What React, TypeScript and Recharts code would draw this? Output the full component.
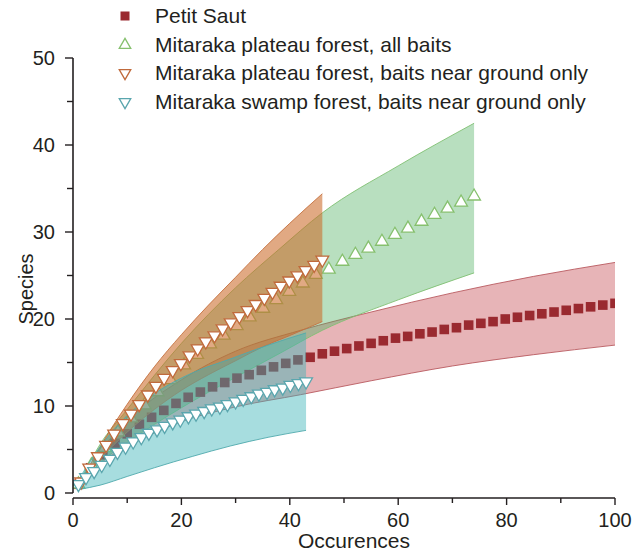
import React from "react";
import {
  ComposedChart,
  Area,
  Scatter,
  XAxis,
  YAxis,
  Legend,
  ReferenceLine,
} from "recharts";

// ---------- Data ----------
const seriesNames = [
  "Petit Saut",
  "Mitaraka plateau forest, all baits",
  "Mitaraka plateau forest, baits near ground only",
  "Mitaraka swamp forest, baits near ground only",
];

const xTicks = [0, 10, 20, 30, 40, 50, 60, 70, 80, 90, 100];
const yTicks = [0, 5, 10, 15, 20, 25, 30, 35, 40, 45, 50];

// Petit Saut
const psX = [1, 3.25, 5.5, 7.75, 10, 12.25, 14.5, 16.75, 19, 21.25, 23.5, 25.75, 28, 30.25, 32.5, 34.75, 37, 39.25, 41.5, 43.75, 46, 48.25, 50.5, 52.75, 55, 57.25, 59.5, 61.75, 64, 66.25, 68.5, 70.75, 73, 75.25, 77.5, 79.75, 82, 84.25, 86.5, 88.75, 91, 93.25, 95.5, 97.75, 100];
const psY = [1.0, 2.9, 4.4, 5.7, 6.8, 7.9, 8.7, 9.5, 10.3, 11.0, 11.6, 12.2, 12.7, 13.2, 13.6, 14.1, 14.5, 14.9, 15.3, 15.6, 16.0, 16.3, 16.6, 16.9, 17.2, 17.5, 17.8, 18.0, 18.3, 18.5, 18.8, 19.0, 19.3, 19.5, 19.7, 20.0, 20.2, 20.4, 20.6, 20.8, 21.0, 21.2, 21.4, 21.6, 21.8];
const psBandX = [1, 5, 10, 20, 30, 42, 55, 70, 85, 100];
const psBandLo = [1, 3.4, 5.3, 8.2, 9.9, 11.3, 12.9, 14.6, 15.9, 17.0];
const psBandHi = [1, 4.8, 8.3, 13.0, 16.3, 18.7, 20.8, 23.0, 24.9, 26.5];

// Mitaraka plateau forest, all baits
const mpX = [1, 3.4, 5.9, 8.3, 10.7, 13.2, 15.6, 18.0, 20.5, 22.9, 25.3, 27.8, 30.2, 32.6, 35.1, 37.5, 39.9, 42.4, 44.8, 47.2, 49.7, 52.1, 54.5, 57.0, 59.4, 61.8, 64.3, 66.7, 69.1, 71.6, 74.0];
const mpY = [1.0, 3.2, 5.2, 7.0, 8.6, 10.1, 11.6, 13.0, 14.7, 15.9, 17.1, 18.1, 19.2, 20.2, 21.2, 22.2, 23.15, 24.1, 25.1, 25.7, 26.6, 27.4, 28.1, 28.9, 29.7, 30.4, 31.2, 32.0, 32.7, 33.4, 34.1];
const mpBandX = [1, 5, 10, 20, 30, 38, 46, 60, 74];
const mpBandLo = [1, 3.5, 5.8, 9.8, 13.3, 16.0, 18.7, 22.2, 25.3];
const mpBandHi = [1, 5.6, 9.6, 17.2, 23.6, 28.0, 32.2, 37.6, 42.5];

// Mitaraka plateau forest, baits near ground only
const mgX = [1.5, 3.0, 4.6, 6.1, 7.6, 9.2, 10.7, 12.2, 13.8, 15.3, 16.8, 18.4, 19.9, 21.5, 23.0, 24.5, 26.1, 27.6, 29.1, 30.7, 32.2, 33.7, 35.3, 36.8, 38.3, 39.9, 41.4, 42.9, 44.5, 46.0];
const mgY = [1.3, 2.9, 4.2, 5.5, 6.8, 8.0, 9.1, 10.2, 11.3, 12.3, 13.2, 14.1, 14.9, 15.8, 16.6, 17.4, 18.1, 18.9, 19.6, 20.3, 21.0, 21.7, 22.4, 23.1, 23.8, 24.4, 25.0, 25.6, 26.2, 26.8];
const mgBandX = [1.5, 5, 10, 15, 20, 25, 30, 35, 40, 46];
const mgBandLo = [1.3, 3.9, 7.0, 9.6, 11.8, 13.6, 15.2, 16.8, 18.1, 19.7];
const mgBandHi = [1.3, 5.3, 10.2, 14.5, 18.2, 21.6, 24.8, 28.0, 31.0, 34.4];

// Mitaraka swamp forest, baits near ground only
const msX = [1.0, 2.4, 3.9, 5.3, 6.8, 8.2, 9.7, 11.1, 12.6, 14.0, 15.5, 16.9, 18.4, 19.8, 21.3, 22.7, 24.2, 25.6, 27.1, 28.5, 30.0, 31.4, 32.9, 34.3, 35.8, 37.2, 38.7, 40.1, 41.6, 43.0];
const msY = [1.0, 1.8, 2.5, 3.2, 3.9, 4.7, 5.3, 5.9, 6.4, 6.9, 7.3, 7.7, 8.1, 8.4, 8.8, 9.1, 9.4, 9.7, 9.9, 10.2, 10.5, 10.8, 11.1, 11.4, 11.6, 11.9, 12.1, 12.4, 12.6, 12.8];
const msBandX = [1, 5, 10, 15, 22, 29, 36, 43];
const msBandLo = [0.4, 0.9, 1.9, 2.9, 4.2, 5.4, 6.4, 7.2];
const msBandHi = [1.5, 5.3, 8.9, 11.4, 13.8, 15.4, 17.0, 18.4];

// ---------- helpers ----------
const pts = (xs: number[], ys: number[]) => xs.map((x, i) => ({ x, y: ys[i] }));
const band = (xs: number[], lo: number[], hi: number[]) =>
  xs.map((x, i) => ({ x, range: [lo[i], hi[i]] }));

const psPts = pts(psX, psY);
const mpPts = pts(mpX, mpY);
const mgPts = pts(mgX, mgY);
const msPts = pts(msX, msY);
const psBand = band(psBandX, psBandLo, psBandHi);
const mpBand = band(mpBandX, mpBandLo, mpBandHi);
const mgBand = band(mgBandX, mgBandLo, mgBandHi);
const msBand = band(msBandX, msBandLo, msBandHi);

const FONT = '"Liberation Sans", Arial, Helvetica, sans-serif';
const INK = "#231f20";

const C = {
  ps: "#9a2a30",
  psFill: "#c03a42",
  psEdge: "#b95a60",
  mp: "#86c06e",
  mpFill: "#4db060",
  mpEdge: "#7fbf72",
  mg: "#c06a3c",
  mgFill: "#cc6a2a",
  mgEdge: "#c4703f",
  ms: "#5aa6ae",
  msFill: "#3cb4b8",
  msEdge: "#4fa9ad",
};

const SIDE = 12.8;
const TH = (SIDE * Math.sqrt(3)) / 2;
const LSIDE = 11.5;
const LTH = (LSIDE * Math.sqrt(3)) / 2;

const triUp = (cx: number, cy: number, s = SIDE, h = TH) =>
  `${cx - s / 2},${cy + h / 3} ${cx + s / 2},${cy + h / 3} ${cx},${cy - (2 * h) / 3}`;
const triDown = (cx: number, cy: number, s = SIDE, h = TH) =>
  `${cx - s / 2},${cy - h / 3} ${cx + s / 2},${cy - h / 3} ${cx},${cy + (2 * h) / 3}`;

const squareShape = (p: any) => (
  <rect x={p.cx - 4.8} y={p.cy - 4.8} width={9.6} height={9.6} fill={C.ps} />
);
const upShape = (color: string) => (p: any) => (
  <polygon points={triUp(p.cx, p.cy)} fill="#ffffff" stroke={color} strokeWidth={1.3} />
);
const downShape = (color: string) => (p: any) => (
  <polygon points={triDown(p.cx, p.cy)} fill="#ffffff" stroke={color} strokeWidth={1.3} />
);

const YTick = (props: any) => {
  const { x, y, payload } = props;
  const major = payload.value % 10 === 0;
  return (
    <g>
      <line x1={x - (major ? 8 : 6)} x2={x} y1={y} y2={y} stroke={INK} strokeWidth={1.4} />
      {major && (
        <text x={x - 18} y={y + 7} textAnchor="end" fontSize={20} fontFamily={FONT} fill={INK}>
          {payload.value}
        </text>
      )}
    </g>
  );
};

const XTick = (props: any) => {
  const { x, y, payload } = props;
  const major = payload.value % 20 === 0;
  return (
    <g>
      <line x1={x} x2={x} y1={y} y2={y + (major ? 7 : 5)} stroke={INK} strokeWidth={1.4} />
      {major && (
        <text x={x} y={y + 29} textAnchor="middle" fontSize={20} fontFamily={FONT} fill={INK}>
          {payload.value}
        </text>
      )}
    </g>
  );
};

const LegendMarker = ({ i }: { i: number }) => {
  const cx = 12;
  const cy = 14;
  if (i === 0) return <rect x={cx - 4.5} y={cy - 4.5} width={9} height={9} fill={C.ps} />;
  if (i === 1) return <polygon points={triUp(cx, cy, LSIDE, LTH)} fill="none" stroke={C.mp} strokeWidth={1.3} />;
  if (i === 2) return <polygon points={triDown(cx, cy, LSIDE, LTH)} fill="none" stroke={C.mg} strokeWidth={1.3} />;
  return <polygon points={triDown(cx, cy, LSIDE, LTH)} fill="none" stroke={C.ms} strokeWidth={1.3} />;
};

const LegendContent = () => (
  <div style={{ fontFamily: FONT, fontSize: 21, color: INK }}>
    {seriesNames.map((name, i) => (
      <div key={name} style={{ display: "flex", alignItems: "center", height: 28.7, whiteSpace: "nowrap" }}>
        <svg width={42} height={28} style={{ flex: "none" }}>
          <LegendMarker i={i} />
        </svg>
        <span>{name}</span>
      </div>
    ))}
  </div>
);

export default function App() {
  return (
    <div style={{ position: "absolute", left: 0, top: 0, width: 638, height: 554, background: "#fff" }}>
      <ComposedChart
        width={638}
        height={554}
        margin={{ top: 58, right: 23, left: 0, bottom: 0 }}
      >
        <XAxis
          type="number"
          dataKey="x"
          domain={[0, 100]}
          ticks={xTicks}
          interval={0}
          tickSize={0}
          tickMargin={0}
          tickLine={false}
          tick={<XTick />}
          axisLine={{ stroke: INK, strokeWidth: 1.6 }}
          height={56}
          allowDataOverflow
        />
        <YAxis
          type="number"
          domain={[-0.575, 50]}
          ticks={yTicks}
          interval={0}
          tickSize={0}
          tickMargin={0}
          tickLine={false}
          tick={<YTick />}
          axisLine={false}
          width={73}
          allowDataOverflow
        />
        <ReferenceLine
          segment={[{ x: 0, y: 0 }, { x: 0, y: 50 }]}
          stroke={INK}
          strokeWidth={1.6}
          ifOverflow="visible"
        />

        <Area
          data={psBand}
          dataKey="range"
          type="monotone"
          fill={C.psFill}
          fillOpacity={0.38}
          stroke={C.psEdge}
          strokeWidth={0.9}
          isAnimationActive={false}
          zIndex={101}
          activeDot={false}
        />
        <Area
          data={mpBand}
          dataKey="range"
          type="monotone"
          fill={C.mpFill}
          fillOpacity={0.4}
          stroke={C.mpEdge}
          strokeWidth={0.9}
          isAnimationActive={false}
          zIndex={102}
          activeDot={false}
        />
        <Scatter
          data={psPts}
          dataKey="y"
          shape={squareShape}
          isAnimationActive={false}
          zIndex={103}
        />
        <Scatter
          data={mpPts}
          dataKey="y"
          shape={upShape(C.mp)}
          isAnimationActive={false}
          zIndex={104}
        />
        <Area
          data={mgBand}
          dataKey="range"
          type="monotone"
          fill={C.mgFill}
          fillOpacity={0.58}
          stroke={C.mgEdge}
          strokeWidth={0.9}
          isAnimationActive={false}
          zIndex={105}
          activeDot={false}
        />
        <Area
          data={msBand}
          dataKey="range"
          type="monotone"
          fill={C.msFill}
          fillOpacity={0.45}
          stroke={C.msEdge}
          strokeWidth={0.9}
          isAnimationActive={false}
          zIndex={106}
          activeDot={false}
        />
        <Scatter
          data={mgPts}
          dataKey="y"
          shape={downShape(C.mg)}
          isAnimationActive={false}
          zIndex={107}
        />
        <Scatter
          data={msPts}
          dataKey="y"
          shape={downShape(C.ms)}
          isAnimationActive={false}
          zIndex={108}
        />

        <Legend
          layout="horizontal"
          verticalAlign="middle"
          align="center"
          content={<LegendContent />}
          wrapperStyle={{ top: 1.6, left: 113, width: "auto", height: "auto" }}
        />
      </ComposedChart>
      <svg
        width={638}
        height={554}
        style={{ position: "absolute", left: 0, top: 0, pointerEvents: "none" }}
      >
        <text x={354} y={548} textAnchor="middle" fontSize={21} fontFamily={FONT} fill={INK}>
          Occurences
        </text>
        <text
          x={33}
          y={289}
          textAnchor="middle"
          fontSize={20}
          fontFamily={FONT}
          fill={INK}
          transform="rotate(-90 33 289)"
        >
          Species
        </text>
      </svg>
    </div>
  );
}
